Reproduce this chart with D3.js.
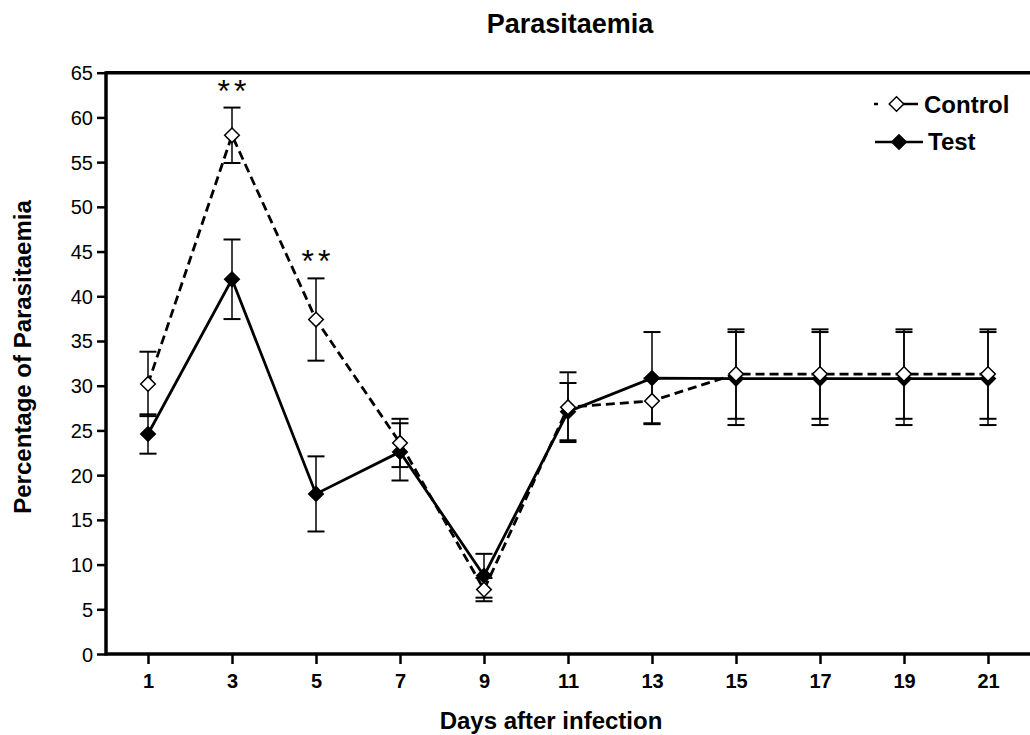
<!DOCTYPE html>
<html><head><meta charset="utf-8">
<script src="https://cdn.jsdelivr.net/npm/d3@7"></script>
<style>body{margin:0;background:#fff}svg{display:block}</style>
</head><body>
<script>
const days = [1,3,5,7,9,11,13,15,17,19,21];
const controlMean = [30.2,58.0,37.4,23.6,7.2,27.6,28.3,31.3,31.3,31.3,31.3];
const controlErr  = [3.6,3.1,4.6,2.7,1.3,3.9,2.5,5.0,5.0,5.0,5.0];
const testMean    = [24.6,41.9,17.9,22.6,8.75,27.1,30.85,30.8,30.8,30.8,30.8];
const testErr     = [2.2,4.45,4.2,3.2,2.45,3.2,5.15,5.2,5.2,5.2,5.2];
const yTicks = [0,5,10,15,20,25,30,35,40,45,50,55,60,65];
const signifDays = [3,5];

const W=1030,H=735;
const svg=d3.select("body").append("svg").attr("width",W).attr("height",H);
const x=d3.scaleLinear().domain([0,22]).range([106,1030]);
const y=d3.scaleLinear().domain([0,65]).range([654,72.7]);
const font="'Liberation Sans', Arial, sans-serif";

svg.append("text").attr("x",570).attr("y",33).attr("text-anchor","middle")
  .attr("font-family",font).attr("font-weight","bold").attr("font-size",27).text("Parasitaemia");

// axes
const yAxis=svg.append("g").attr("transform","translate(106,0)")
  .call(d3.axisLeft(y).tickValues(yTicks).tickSize(9).tickPadding(4));
yAxis.select(".domain").remove();
yAxis.selectAll("line").attr("stroke-width",2.5);
yAxis.selectAll("text").attr("font-family",font).attr("font-size",20).attr("fill","#000").attr("dy","0.35em");

const xAxis=svg.append("g").attr("transform","translate(0,654)")
  .call(d3.axisBottom(x).tickValues(days).tickSize(10).tickPadding(0));
xAxis.select(".domain").remove();
xAxis.selectAll("line").attr("stroke-width",2.5);
xAxis.selectAll("text").attr("font-family",font).attr("font-size",20).attr("font-weight","bold")
  .attr("fill","#000").attr("y",34).attr("dy",0);

// frame lines
svg.append("line").attr("x1",106).attr("x2",1030).attr("y1",y(0)).attr("y2",y(0)).attr("stroke","#000").attr("stroke-width",3.5);
svg.append("line").attr("x1",106).attr("x2",1030).attr("y1",y(65)).attr("y2",y(65)).attr("stroke","#000").attr("stroke-width",3.5);
svg.append("line").attr("x1",106).attr("x2",106).attr("y1",y(65)-1.5).attr("y2",y(0)+1.5).attr("stroke","#000").attr("stroke-width",3.5);

svg.append("text").attr("transform","translate(31,357) rotate(-90)").attr("text-anchor","middle")
  .attr("font-family",font).attr("font-weight","bold").attr("font-size",24).text("Percentage of Parasitaemia");
svg.append("text").attr("x",551).attr("y",729).attr("text-anchor","middle")
  .attr("font-family",font).attr("font-weight","bold").attr("font-size",24).text("Days after infection");

const series=[
  {name:"Control",mean:controlMean,err:controlErr,dash:"9,5",fill:"#fff"},
  {name:"Test",mean:testMean,err:testErr,dash:null,fill:"#000"}
];
const line=d3.line().x(d=>x(d[0])).y(d=>y(d[1]));

function drawDiamond(g,cx,cy,fill){
  const r=7.3;
  g.append("path").attr("d",`M${cx},${cy-r}L${cx+r},${cy}L${cx},${cy+r}L${cx-r},${cy}Z`)
   .attr("fill",fill).attr("stroke","#000").attr("stroke-width",1.5);
}

// error bars
series.forEach(s=>{
  const g=svg.append("g");
  days.forEach((d,i)=>{
    const cx=x(d), lo=y(s.mean[i]-s.err[i]), hi=y(s.mean[i]+s.err[i]);
    g.append("line").attr("x1",cx).attr("x2",cx).attr("y1",lo).attr("y2",hi).attr("stroke","#000").attr("stroke-width",1.5);
    [lo,hi].forEach(v=>g.append("line").attr("x1",cx-8.5).attr("x2",cx+8.5).attr("y1",v).attr("y2",v).attr("stroke","#000").attr("stroke-width",2));
  });
});
// lines
series.forEach(s=>{
  svg.append("path").datum(days.map((d,i)=>[d,s.mean[i]])).attr("d",line)
    .attr("fill","none").attr("stroke","#000").attr("stroke-width",2.8)
    .attr("stroke-dasharray",s.dash);
});
// markers
[series[1],series[0]].forEach(s=>{
  const g=svg.append("g");
  days.forEach((d,i)=>drawDiamond(g,x(d),y(s.mean[i]),s.fill));
});

// significance
signifDays.forEach(d=>{
  const i=days.indexOf(d);
  svg.append("text").attr("x",x(d)+2).attr("y",y(controlMean[i]+controlErr[i])-6).attr("text-anchor","middle")
    .attr("font-family",font).attr("font-size",32).attr("letter-spacing",4).text("**");
});

// legend
const lg=svg.append("g");
lg.append("line").attr("x1",874).attr("x2",878).attr("y1",104).attr("y2",104).attr("stroke","#000").attr("stroke-width",2.5);
lg.append("line").attr("x1",903).attr("x2",918).attr("y1",104).attr("y2",104).attr("stroke","#000").attr("stroke-width",2.5);
drawDiamond(lg,896.5,104,"#fff");
lg.append("text").attr("x",924).attr("y",113).attr("font-family",font).attr("font-weight","bold").attr("font-size",24).text("Control");
lg.append("line").attr("x1",875).attr("x2",923).attr("y1",142).attr("y2",142).attr("stroke","#000").attr("stroke-width",2.5);
drawDiamond(lg,899,142,"#000");
lg.append("text").attr("x",928).attr("y",150).attr("font-family",font).attr("font-weight","bold").attr("font-size",24).text("Test");
</script>
</body></html>
